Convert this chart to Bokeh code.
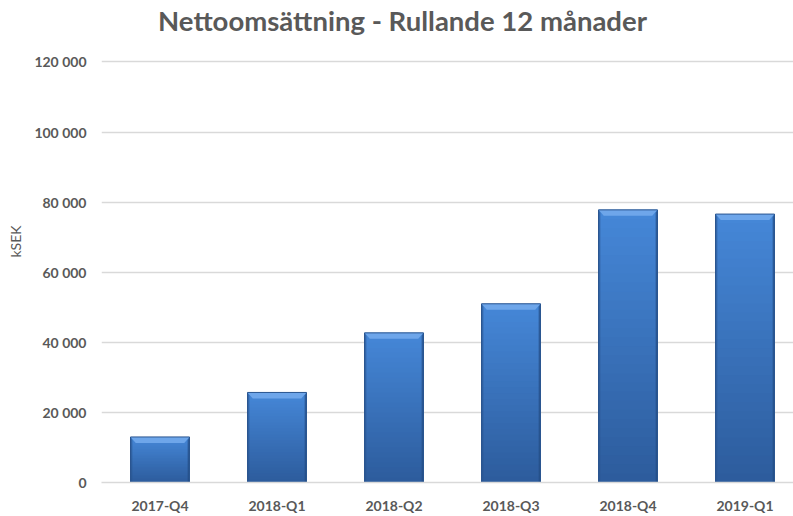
import numpy as np
from bokeh.plotting import figure
from bokeh.models import FixedTicker, Range1d, Label
from bokeh.embed import file_html
from bokeh.resources import INLINE

# ---- data ----
quarters = ["2017-Q4", "2018-Q1", "2018-Q2", "2018-Q3", "2018-Q4", "2019-Q1"]
sales = [13000, 25700, 42700, 51000, 77800, 76600]
y_ticks = [0, 20000, 40000, 60000, 80000, 100000, 120000]
y_tick_labels = ["0", "20 000", "40 000", "60 000", "80 000", "100 000", "120 000"]
title_text = "Nettoomsättning - Rullande 12 månader"
y_label = "kSEK"

FONT = "Lato"
GRAY = "#595959"

W, H = 793, 516
BORDER_BOTTOM = 30
FRAME_H = H - BORDER_BOTTOM          # frame reaches the top of the canvas
GRID_H = 424                          # pixels from 0 to the top tick
y_end = max(y_ticks) * FRAME_H / GRID_H

p = figure(width=W, height=H, output_backend="svg", toolbar_location=None,
           x_range=Range1d(-0.5, 5.4145), y_range=Range1d(0, y_end),
           min_border_left=101, min_border_top=0, min_border_bottom=BORDER_BOTTOM,
           min_border_right=0)
p.outline_line_color = None
p.background_fill_color = "white"
p.border_fill_color = "white"

# ---- bars with vertical gradient ----
xs = np.arange(len(quarters))
vals = np.array(sales, dtype=float)
bar_w = 0.504
N = 30
c_bot = np.array([0x2D, 0x5C, 0x9C])
c_top = np.array([0x46, 0x88, 0xD8])
sx, sb, st, sc = [], [], [], []
for i, v in zip(xs, vals):
    for k in range(N):
        f = (k + 0.5) / N
        c = (c_bot + (c_top - c_bot) * f).astype(int)
        sx.append(i)
        sb.append(v * k / N)
        st.append(min(v, v * (k + 1.6) / N))
        sc.append("#%02x%02x%02x" % tuple(c))
p.vbar(x=sx, bottom=sb, top=st, width=bar_w, fill_color=sc, line_color=None)

# top bevel (lighter trapezoid) computed from values
bev = 1700
inset = 0.045
bx, by = [], []
for i, v in zip(xs, vals):
    bx.append([i - bar_w / 2, i + bar_w / 2, i + bar_w / 2 - inset, i - bar_w / 2 + inset])
    by.append([v, v, v - bev, v - bev])
p.patches(bx, by, fill_color="#6EA6EA", line_color=None)
# dark side bevels
lx, ly, rx, ry = [], [], [], []
for i, v in zip(xs, vals):
    lx.append([i - bar_w / 2, i - bar_w / 2 + inset * 0.35, i - bar_w / 2 + inset * 0.35, i - bar_w / 2])
    ly.append([0, 0, v - bev * 0.5, v])
    rx.append([i + bar_w / 2, i + bar_w / 2 - inset * 0.35, i + bar_w / 2 - inset * 0.35, i + bar_w / 2])
    ry.append([0, 0, v - bev * 0.5, v])
p.patches(lx, ly, fill_color="#2A5590", fill_alpha=0.6, line_color=None)
p.patches(rx, ry, fill_color="#244B82", fill_alpha=0.7, line_color=None)
p.vbar(x=xs, bottom=0, top=vals, width=bar_w, fill_color=None,
       line_color="#2A5590", line_width=1)

# ---- axes ----
p.xgrid.grid_line_color = None
p.ygrid.grid_line_color = "#D9D9D9"
p.ygrid.grid_line_width = 1.5

p.yaxis.ticker = FixedTicker(ticks=y_ticks)
p.yaxis.major_label_overrides = {t: l for t, l in zip(y_ticks, y_tick_labels)}
p.yaxis.axis_line_color = None
p.yaxis.major_tick_line_color = None
p.yaxis.minor_tick_line_color = None
p.yaxis.major_tick_out = 0
p.yaxis.major_tick_in = 0
p.yaxis.major_label_standoff = 15
p.yaxis.major_label_text_font = FONT
p.yaxis.major_label_text_font_style = "bold"
p.yaxis.major_label_text_font_size = "14px"
p.yaxis.major_label_text_color = GRAY

p.xaxis.ticker = FixedTicker(ticks=list(xs))
p.xaxis.major_label_overrides = {int(i): q for i, q in zip(xs, quarters)}
p.xaxis.axis_line_color = "#D9D9D9"
p.xaxis.axis_line_width = 1.5
p.xaxis.major_tick_line_color = None
p.xaxis.minor_tick_line_color = None
p.xaxis.major_tick_out = 0
p.xaxis.major_tick_in = 0
p.xaxis.major_label_standoff = 14
p.xaxis.major_label_text_font = FONT
p.xaxis.major_label_text_font_style = "bold"
p.xaxis.major_label_text_font_size = "14px"
p.xaxis.major_label_text_color = GRAY

# y-axis label
p.yaxis.axis_label = y_label
p.yaxis.axis_label_text_font = FONT
p.yaxis.axis_label_text_font_style = "normal"
p.yaxis.axis_label_text_font_size = "14px"
p.yaxis.axis_label_text_color = GRAY
p.yaxis.axis_label_standoff = 7

# ---- title (inside the tall frame, above the top gridline) ----
title = Label(x=301, y=FRAME_H - 24, x_units="screen", y_units="screen",
              text=title_text, text_align="center", text_baseline="middle",
              text_font=FONT, text_font_style="bold", text_font_size="27.5px",
              text_color=GRAY)
p.add_layout(title)

open("out.html", "w").write(file_html(p, INLINE))
